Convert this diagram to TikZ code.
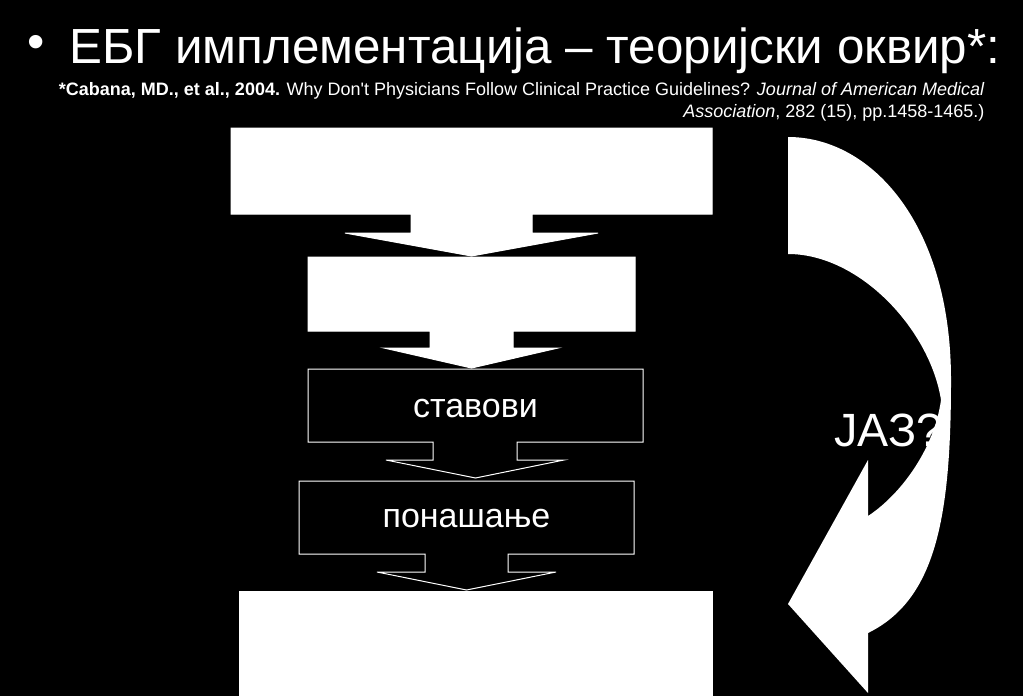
\documentclass[tikz,border=0pt]{standalone}
\usepackage{fontspec}
\setmainfont{Liberation Sans}[Ligatures=TeXOff]

\tikzset{every picture/.style={line width=0.75pt}}
\tikzset{
  whitetext/.style={color=white, inner sep=0pt},
  fullbox/.style={draw=white, fill=white},
  framebox/.style={draw=white, fill=black},
}

\begin{document}
\begin{tikzpicture}[x=0.75pt,y=0.75pt,yscale=-1,xscale=1]
\useasboundingbox (0,0) rectangle (1023,696);
%set diagram left start at 0, and has height of 696

%Shape: Rectangle (slide background)
\fill [black] (0,0) rectangle (1023,696) ;

%Shape: Down Arrow Callout (top)
\draw [fullbox] (231,128) -- (712,128) -- (712,214) -- (532,214) -- (532,233) -- (598,233) -- (471.5,256) -- (345,233) -- (411,233) -- (411,214) -- (231,214) -- cycle ;
%Shape: Down Arrow Callout (second)
\draw [fullbox] (308,257) -- (635,257) -- (635,331) -- (513,331) -- (513,348) -- (558,348) -- (471.5,368) -- (384,348) -- (430,348) -- (430,331) -- (308,331) -- cycle ;
%Shape: Down Arrow Callout (attitudes)
\draw [framebox] (308,369) -- (643,369) -- (643,442) -- (517,442) -- (517,460) -- (564,460) -- (475.5,478) -- (386,460) -- (433,460) -- (433,442) -- (308,442) -- cycle ;
%Shape: Down Arrow Callout (behaviour)
\draw [framebox] (299,481) -- (634,481) -- (634,554) -- (508,554) -- (508,572) -- (556,572) -- (466.5,590) -- (377,572) -- (425,572) -- (425,554) -- (299,554) -- cycle ;
%Shape: Rectangle (bottom)
\draw [fullbox] (239,591) rectangle (712,696) ;

%Shape: Curved Left Arrow
\fill [white] (788,137) .. controls (872,137) and (951,225) .. (951,380)
  .. controls (951,520) and (935,600) .. (868,633)
  -- (868,693) -- (788,604) -- (868,460) -- (868,516)
  .. controls (900,495) and (934,450) .. (941,400)
  .. controls (930,330) and (860,254) .. (788,254) -- cycle ;

% Text Node
\draw (475.5,417) node [anchor=base][whitetext] (stavovi) {\fontsize{25.5}{30}\selectfont ставови};
% Text Node
\draw (466.5,527) node [anchor=base][whitetext] (ponasanje) {\fontsize{25.5}{30}\selectfont понашање};
% Text Node
\draw (834,446) node [anchor=base west][whitetext] (jaz) {\fontsize{35}{42}\selectfont ЈАЗ?};

% Text Node
\draw (36,47) node [whitetext] (bullet) {\fontsize{37}{44}\selectfont •};
% Text Node
\draw (69,63) node [anchor=base west][whitetext] (title) {\fontsize{37}{44}\selectfont ЕБГ имплементација – теоријски оквир*:};
% Text Node
\draw (985,95) node [anchor=base east][whitetext] (cite1) {\fontsize{13.5}{16}\selectfont \textbf{*Cabana, MD., et al., 2004.} Why Don't Physicians Follow Clinical Practice Guidelines? \textit{Journal of American Medical}};
% Text Node
\draw (985,117) node [anchor=base east][whitetext] (cite2) {\fontsize{13.5}{16}\selectfont \textit{Association},\ 282 (15), pp.1458-1465.)};

\end{tikzpicture}
\end{document}
